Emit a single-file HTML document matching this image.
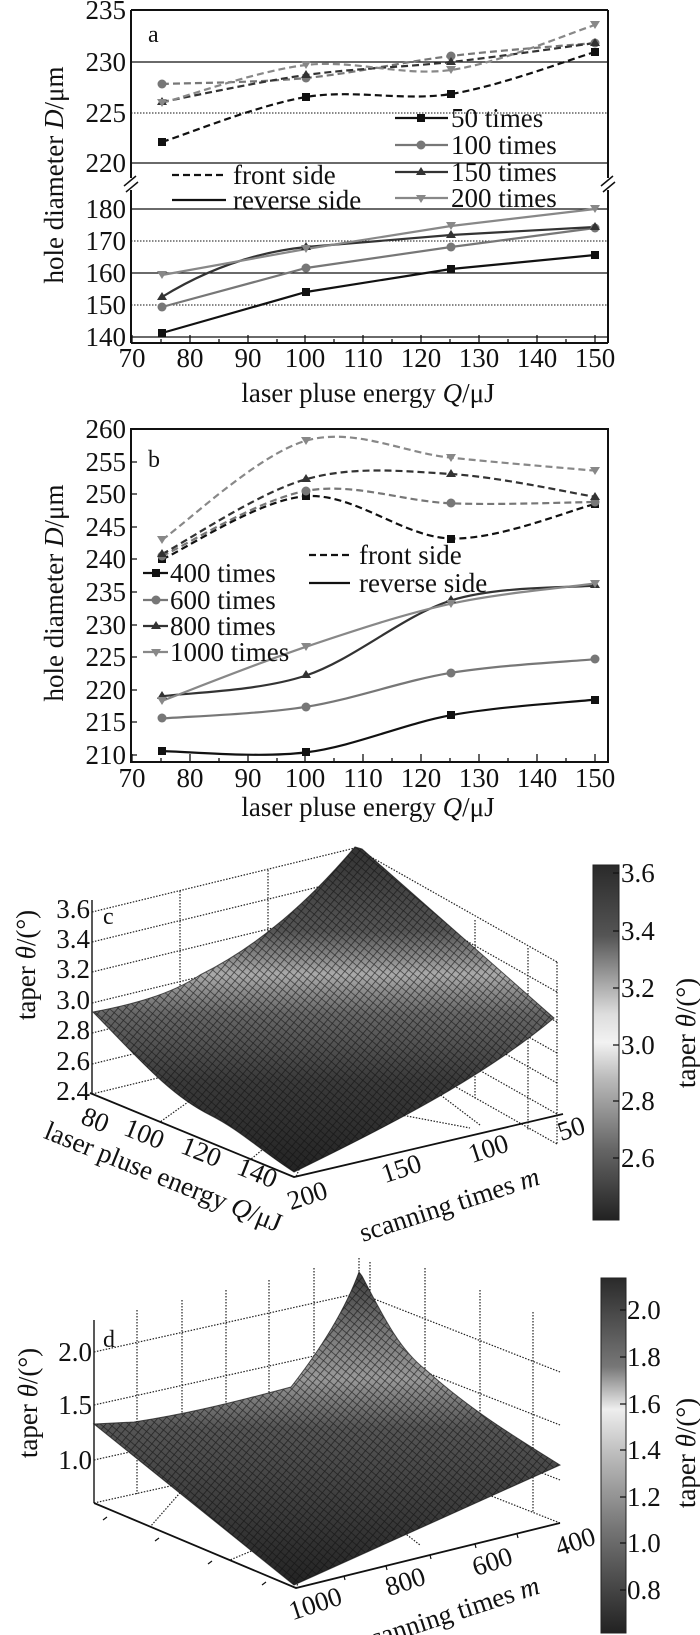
<!DOCTYPE html>
<html><head><meta charset="utf-8"><style>
html,body{margin:0;padding:0;background:#fff}
svg{display:block}
text{font-family:"Liberation Serif",serif;fill:#111}
</style></head><body>
<svg width="700" height="1635" viewBox="0 0 700 1635" xmlns="http://www.w3.org/2000/svg">
<defs>
<pattern id="mesh" width="6" height="6" patternUnits="userSpaceOnUse" patternTransform="rotate(40)">
<path d="M0 0H6M0 0V6" stroke="#111" stroke-width="1.6" fill="none"/>
</pattern>
<linearGradient id="gc" x1="0" y1="848" x2="0" y2="1180" gradientUnits="userSpaceOnUse">
<stop offset="0" stop-color="#333"/><stop offset="0.25" stop-color="#555"/><stop offset="0.38" stop-color="#aaa"/><stop offset="0.5" stop-color="#666"/><stop offset="0.7" stop-color="#3a3a3a"/><stop offset="1" stop-color="#222"/>
</linearGradient>
<linearGradient id="gd" x1="0" y1="1265" x2="0" y2="1590" gradientUnits="userSpaceOnUse">
<stop offset="0" stop-color="#333"/><stop offset="0.2" stop-color="#777"/><stop offset="0.35" stop-color="#999"/><stop offset="0.5" stop-color="#555"/><stop offset="1" stop-color="#222"/>
</linearGradient>
<linearGradient id="cbc" x1="0" y1="0" x2="0" y2="1">
<stop offset="0" stop-color="#2a2a2a"/><stop offset="0.2" stop-color="#555"/><stop offset="0.42" stop-color="#ddd"/><stop offset="0.5" stop-color="#f2f2f2"/><stop offset="0.6" stop-color="#bbb"/><stop offset="0.8" stop-color="#666"/><stop offset="1" stop-color="#222"/>
</linearGradient>
<linearGradient id="cbd" x1="0" y1="0" x2="0" y2="1">
<stop offset="0" stop-color="#2a2a2a"/><stop offset="0.25" stop-color="#777"/><stop offset="0.37" stop-color="#eee"/><stop offset="0.5" stop-color="#bbb"/><stop offset="0.7" stop-color="#777"/><stop offset="1" stop-color="#222"/>
</linearGradient>
</defs>

<!-- ========== PLOT A ========== -->
<g stroke="#111" fill="none">
<path d="M131 10H608M131 343H608M131 10V178M131 190V343M608 10V178M608 190V343" stroke-width="2"/>
<path d="M124 186l12-10M126 192l12-10M601 186l12-10M603 192l12-10" stroke-width="1.5"/>
<path d="M131 62H608M131 163H608M131 209H608M131 273H608M131 337H608" stroke-width="1.3"/>
<path d="M131 113H608M131 241H608M131 305H608" stroke-width="1" stroke-dasharray="1.5 1.5"/>
</g>
<g stroke="#111" stroke-width="1.3">
<path d="M132 343v-8M190 343v-8M248 343v-8M305 343v-8M363 343v-8M421 343v-8M479 343v-8M537 343v-8M595 343v-8"/>
<path d="M161 343v-4M219 343v-4M277 343v-4M334 343v-4M392 343v-4M450 343v-4M508 343v-4M566 343v-4"/>
</g>
<g font-size="27" text-anchor="end">
<text x="126" y="19">235</text><text x="126" y="71">230</text><text x="126" y="122">225</text><text x="126" y="172">220</text>
<text x="126" y="218">180</text><text x="126" y="250">170</text><text x="126" y="282">160</text><text x="126" y="314">150</text><text x="126" y="346">140</text>
</g>
<g font-size="27" text-anchor="middle">
<text x="132" y="367">70</text><text x="190" y="367">80</text><text x="248" y="367">90</text><text x="305" y="367">100</text><text x="363" y="367">110</text><text x="421" y="367">120</text><text x="479" y="367">130</text><text x="537" y="367">140</text><text x="595" y="367">150</text>
<text x="368" y="402">laser pluse energy <tspan font-style="italic">Q</tspan>/μJ</text>
</g>
<text font-size="27" text-anchor="middle" transform="translate(63 175) rotate(-90)">hole diameter <tspan font-style="italic">D</tspan>/μm</text>
<text x="148" y="42" font-size="24">a</text>
<!-- front dashed -->
<g fill="none" stroke-width="2.2" stroke-dasharray="7 4">
<path d="M162 142C186 134.5 258 105 306 97C354 89 403 101.5 451 94C499 86.5 571 59 595 52" stroke="#111"/>
<path d="M162 84C186 83 258 82.7 306 78C354 73.3 403 61.8 451 56C499 50.2 571 45.2 595 43" stroke="#777"/>
<path d="M162 102C186 97.5 258 81.7 306 75C354 68.3 403 67.3 451 62C499 56.7 571 46.2 595 43" stroke="#333"/>
<path d="M162 103C186 96.7 258 70.5 306 65C354 59.5 403 76.7 451 70C499 63.3 571 32.5 595 25" stroke="#888"/>
</g>
<g fill="none" stroke-width="2.2">
<path d="M162 333L306 292L451 269L595 255" stroke="#111"/>
<path d="M162 307L306 268L451 247L595 228" stroke="#777"/>
<path d="M162 297Q230 255 306 247L451 235L595 227" stroke="#333"/>
<path d="M162 275L306 249L451 226L595 209" stroke="#888"/>
</g>
<g>
<path d="M158 138h8v8h-8zM302 93h8v8h-8zM447 90h8v8h-8zM591 48h8v8h-8zM158 329h8v8h-8zM302 288h8v8h-8zM447 265h8v8h-8zM591 251h8v8h-8z" fill="#111"/>
<g fill="#777"><circle cx="162" cy="84" r="4.5"/><circle cx="306" cy="78" r="4.5"/><circle cx="451" cy="56" r="4.5"/><circle cx="595" cy="43" r="4.5"/><circle cx="162" cy="307" r="4.5"/><circle cx="306" cy="268" r="4.5"/><circle cx="451" cy="247" r="4.5"/><circle cx="595" cy="228" r="4.5"/></g>
<path d="M162 97l5 8h-10zM306 70l5 8h-10zM451 57l5 8h-10zM595 38l5 8h-10zM162 292l5 8h-10zM306 242l5 8h-10zM451 230l5 8h-10zM595 222l5 8h-10z" fill="#333"/>
<path d="M162 107l5-8h-10zM306 69l5-8h-10zM451 74l5-8h-10zM595 29l5-8h-10zM162 279l5-8h-10zM306 253l5-8h-10zM451 230l5-8h-10zM595 213l5-8h-10z" fill="#888"/>
</g>
<!-- legend a -->
<g stroke-width="2.2" fill="none">
<path d="M395 118H448" stroke="#111"/><path d="M395 145H448" stroke="#777"/><path d="M395 172H448" stroke="#333"/><path d="M395 198H448" stroke="#888"/>
<path d="M172 175H226" stroke="#111" stroke-dasharray="7 4"/><path d="M172 200H226" stroke="#111"/>
</g>
<path d="M417 114h8v8h-8z" fill="#111"/><circle cx="421" cy="145" r="4.5" fill="#777"/><path d="M421 167l5 8h-10z" fill="#333"/><path d="M421 203l5-8h-10z" fill="#888"/>
<g font-size="27"><text x="451" y="127">50 times</text><text x="451" y="154">100 times</text><text x="451" y="181">150 times</text><text x="451" y="207">200 times</text>
<text x="233" y="184">front side</text><text x="233" y="209">reverse side</text></g>

<!-- ========== PLOT B ========== -->
<rect x="131" y="429" width="477" height="333" fill="none" stroke="#111" stroke-width="2"/>
<g stroke="#111" stroke-width="1.3">
<path d="M132 762v-8M190 762v-8M248 762v-8M305 762v-8M363 762v-8M421 762v-8M479 762v-8M537 762v-8M595 762v-8"/>
<path d="M161 762v-4M219 762v-4M277 762v-4M334 762v-4M392 762v-4M450 762v-4M508 762v-4M566 762v-4"/>
<path d="M131 429h6M131 462h6M131 494h6M131 527h6M131 559h6M131 592h6M131 625h6M131 657h6M131 690h6M131 722h6M131 755h6"/>
</g>
<g font-size="27" text-anchor="end">
<text x="126" y="438">260</text><text x="126" y="471">255</text><text x="126" y="503">250</text><text x="126" y="536">245</text><text x="126" y="568">240</text><text x="126" y="601">235</text><text x="126" y="634">230</text><text x="126" y="666">225</text><text x="126" y="699">220</text><text x="126" y="731">215</text><text x="126" y="764">210</text>
</g>
<g font-size="27" text-anchor="middle">
<text x="132" y="787">70</text><text x="190" y="787">80</text><text x="248" y="787">90</text><text x="305" y="787">100</text><text x="363" y="787">110</text><text x="421" y="787">120</text><text x="479" y="787">130</text><text x="537" y="787">140</text><text x="595" y="787">150</text>
<text x="368" y="816">laser pluse energy <tspan font-style="italic">Q</tspan>/μJ</text>
</g>
<text font-size="27" text-anchor="middle" transform="translate(63 593) rotate(-90)">hole diameter <tspan font-style="italic">D</tspan>/μm</text>
<text x="148" y="467" font-size="24">b</text>
<g fill="none" stroke-width="2.2" stroke-dasharray="7 4">
<path d="M162 559.4C186 548.9 258 499.7 306 496.2C354 492.7 403 537.2 451 538.5C499 539.8 571 509.8 595 504" stroke="#111"/>
<path d="M162 556.1C186 545.2 258 499.7 306 490.9C354 482.1 403 501.5 451 503.3C499 505.2 571 502.2 595 502" stroke="#777"/>
<path d="M162 554.2C186 541.7 258 492.6 306 479.2C354 465.8 403 471.1 451 474C499 476.9 571 493 595 496.8" stroke="#333"/>
<path d="M162 539.8C186 523.3 258 454.4 306 440.7C354 427 403 452.7 451 457.7C499 462.7 571 468.5 595 470.7" stroke="#888"/>
</g>
<g fill="none" stroke-width="2.2">
<path d="M162 751.1C186 751.3 258 758.4 306 752.4C354 746.4 403 724 451 715.2C499 706.4 571 702.2 595 699.6" stroke="#111"/>
<path d="M162 718.5C186 716.5 258 714.4 306 706.8C354 699.2 403 680.7 451 672.8C499 664.9 571 661.5 595 659.2" stroke="#777"/>
<path d="M162 696.3C186 692.8 258 691.5 306 675.5C354 659.5 403 615.5 451 600.5C499 585.5 571 588 595 585.5" stroke="#333"/>
<path d="M162 700.9C186 691.9 258 663 306 646.8C354 630.6 403 614.3 451 603.7C499 593.1 571 586.9 595 583.5" stroke="#888"/>
</g>
<path d="M158 555h8v8h-8zM302 492h8v8h-8zM447 535h8v8h-8zM591 500h8v8h-8zM158 747h8v8h-8zM302 748h8v8h-8zM447 711h8v8h-8zM591 696h8v8h-8z" fill="#111"/>
<g fill="#777"><circle cx="162" cy="556" r="4.5"/><circle cx="306" cy="491" r="4.5"/><circle cx="451" cy="503" r="4.5"/><circle cx="595" cy="502" r="4.5"/><circle cx="162" cy="718" r="4.5"/><circle cx="306" cy="707" r="4.5"/><circle cx="451" cy="673" r="4.5"/><circle cx="595" cy="659" r="4.5"/></g>
<path d="M162 549l5 8h-10zM306 474l5 8h-10zM451 469l5 8h-10zM595 492l5 8h-10zM162 691l5 8h-10zM306 670l5 8h-10zM451 595l5 8h-10zM595 580l5 8h-10z" fill="#333"/>
<path d="M162 544l5-8h-10zM306 445l5-8h-10zM451 462l5-8h-10zM595 475l5-8h-10zM162 705l5-8h-10zM306 651l5-8h-10zM451 608l5-8h-10zM595 588l5-8h-10z" fill="#888"/>
<g stroke-width="2.2" fill="none">
<path d="M143 573H168" stroke="#111"/><path d="M143 600H168" stroke="#777"/><path d="M143 626H168" stroke="#333"/><path d="M143 652H168" stroke="#888"/>
<path d="M309 555H350" stroke="#111" stroke-dasharray="7 4"/><path d="M309 583H350" stroke="#111"/>
</g>
<path d="M152 569h8v8h-8z" fill="#111"/><circle cx="156" cy="600" r="4.5" fill="#777"/><path d="M156 621l5 8h-10z" fill="#333"/><path d="M156 657l5-8h-10z" fill="#888"/>
<g font-size="27"><text x="170" y="582">400 times</text><text x="170" y="609">600 times</text><text x="170" y="635">800 times</text><text x="170" y="661">1000 times</text>
<text x="359" y="564">front side</text><text x="359" y="592">reverse side</text></g>

<!-- ========== PLOT C ========== -->
<g fill="none" stroke="#222" stroke-width="1.2" stroke-dasharray="1.5 1.5">
<path d="M92 912L355 848L557 962M92 942L355 878L557 992M92 972L355 908L557 1022M92 1003L355 939L557 1053M92 1033L355 969L557 1083M92 1064L355 1000L557 1114M92 1094L355 1030L557 1144"/>
<path d="M180 891V1073M268 870V1052M355 848V1030M475 920V1100M528 948V1130M557 962V1144"/>
<path d="M355 1030L296 1177M250 1058L160 1122M180 1073L470 1128M430 1010L250 1160M480 1125L355 1030"/>
</g>
<path d="M92 900V1094" stroke="#222" stroke-width="1.5"/>
<path d="M90 1093L294 1177L563 1114" fill="none" stroke="#111" stroke-width="1.8"/>
<g font-size="27" text-anchor="end">
<text x="90" y="918">3.6</text><text x="90" y="948">3.4</text><text x="90" y="978">3.2</text><text x="90" y="1009">3.0</text><text x="90" y="1039">2.8</text><text x="90" y="1070">2.6</text><text x="90" y="1100">2.4</text>
</g>
<text x="103" y="924" font-size="24">c</text>
<path d="M93 1012C130 1005 170 995 200 975C260 945 310 900 355 847L362 849L554 1018C480 1080 380 1130 294 1172C260 1150 240 1130 210 1115C170 1095 140 1060 93 1012Z" fill="url(#gc)"/>
<path d="M93 1012C130 1005 170 995 200 975C260 945 310 900 355 847L362 849L554 1018C480 1080 380 1130 294 1172C260 1150 240 1130 210 1115C170 1095 140 1060 93 1012Z" fill="url(#mesh)" opacity="0.7" stroke="#111" stroke-width="1"/>
<text font-size="27" text-anchor="middle" transform="translate(35 965) rotate(-90)">taper <tspan font-style="italic">θ</tspan>/(°)</text>
<g font-size="27" text-anchor="middle">
<text transform="translate(92 1128) rotate(22)">80</text><text transform="translate(141 1142) rotate(22)">100</text><text transform="translate(198 1160) rotate(22)">120</text><text transform="translate(254 1181) rotate(22)">140</text>
<text transform="translate(160 1185) rotate(22)">laser pluse energy <tspan font-style="italic">Q</tspan>/μJ</text>
<text transform="translate(310 1204) rotate(-18)">200</text><text transform="translate(404 1177) rotate(-18)">150</text><text transform="translate(491 1157) rotate(-18)">100</text><text transform="translate(574 1137) rotate(-18)">50</text>
<text transform="translate(452 1213) rotate(-18)">scanning times <tspan font-style="italic">m</tspan></text>
</g>
<rect x="593" y="865" width="26" height="355" fill="url(#cbc)" stroke="#222" stroke-width="1"/>
<g stroke="#111" stroke-width="1.2"><path d="M613 873h6M613 931h6M613 988h6M613 1045h6M613 1101h6M613 1158h6"/></g>
<g font-size="27"><text x="621" y="882">3.6</text><text x="621" y="940">3.4</text><text x="621" y="997">3.2</text><text x="621" y="1054">3.0</text><text x="621" y="1110">2.8</text><text x="621" y="1167">2.6</text></g>
<text font-size="27" text-anchor="middle" transform="translate(695 1033) rotate(-90)">taper <tspan font-style="italic">θ</tspan>/(°)</text>

<!-- ========== PLOT D ========== -->
<g fill="none" stroke="#222" stroke-width="1.2" stroke-dasharray="1.5 1.5">
<path d="M94 1352L359 1293L560 1372M94 1405L359 1346L560 1425M94 1460L359 1401L560 1480M94 1503L359 1444L560 1523"/>
<path d="M137 1310V1494M182 1300V1484M226 1290V1474M269 1280V1464M314 1268V1454M359 1258V1444M370 1262V1448M425 1268V1470M480 1290V1492M533 1312V1513"/>
<path d="M359 1444L296 1588M200 1470L150 1527M300 1452L420 1545M420 1480L230 1560"/>
</g>
<path d="M94 1320V1503" stroke="#222" stroke-width="1.5"/>
<path d="M94 1503L296 1588L560 1523" fill="none" stroke="#111" stroke-width="1.8"/>
<path d="M103 1520l4-3M155 1541l4-3M208 1564l4-3M262 1585l4-3M344 1576l1 4M386 1566l1 4M430 1555l1 4M475 1544l1 4M517 1534l1 4" stroke="#111" stroke-width="1.2"/>
<g font-size="27" text-anchor="end">
<text x="92" y="1361">2.0</text><text x="92" y="1414">1.5</text><text x="92" y="1469">1.0</text>
</g>
<text x="103" y="1347" font-size="24">d</text>
<path d="M94 1424L134 1422C180 1415 224 1405 291 1387C320 1350 345 1310 359 1272L362 1276C385 1320 400 1350 426 1370C470 1410 520 1440 560 1465L294 1585L94 1424Z" fill="url(#gd)"/>
<path d="M94 1424L134 1422C180 1415 224 1405 291 1387C320 1350 345 1310 359 1272L362 1276C385 1320 400 1350 426 1370C470 1410 520 1440 560 1465L294 1585L94 1424Z" fill="url(#mesh)" opacity="0.7" stroke="#111" stroke-width="1"/>
<text font-size="27" text-anchor="middle" transform="translate(37 1403) rotate(-90)">taper <tspan font-style="italic">θ</tspan>/(°)</text>
<g font-size="27" text-anchor="middle">
<text transform="translate(318 1612) rotate(-18)">1000</text><text transform="translate(408 1590) rotate(-18)">800</text><text transform="translate(495 1570) rotate(-18)">600</text><text transform="translate(578 1550) rotate(-18)">400</text>
<text transform="translate(452 1622) rotate(-18)">scanning times <tspan font-style="italic">m</tspan></text>
</g>
<rect x="601" y="1278" width="25" height="355" fill="url(#cbd)" stroke="#222" stroke-width="1"/>
<g stroke="#111" stroke-width="1.2"><path d="M620 1310h6M620 1357h6M620 1404h6M620 1450h6M620 1497h6M620 1543h6M620 1590h6"/></g>
<g font-size="27"><text x="627" y="1319">2.0</text><text x="627" y="1366">1.8</text><text x="627" y="1413">1.6</text><text x="627" y="1459">1.4</text><text x="627" y="1506">1.2</text><text x="627" y="1552">1.0</text><text x="627" y="1599">0.8</text></g>
<text font-size="27" text-anchor="middle" transform="translate(695 1453) rotate(-90)">taper <tspan font-style="italic">θ</tspan>/(°)</text>
</svg>
</body></html>
